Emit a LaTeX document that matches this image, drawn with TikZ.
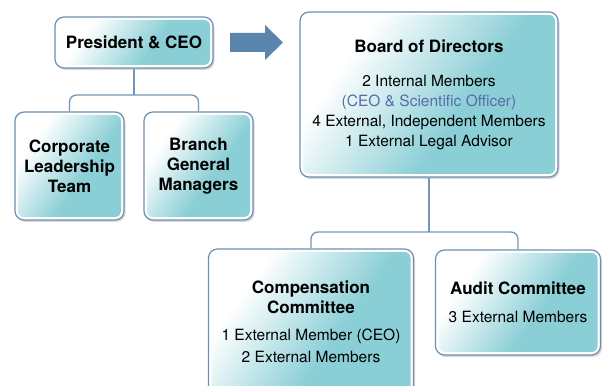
\documentclass[tikz,border=0pt]{standalone}
\usepackage{fontspec}
\setmainfont{TeX Gyre Heros}
\usetikzlibrary{shadows}
\definecolor{boxteal}{HTML}{8BCFD6}
\definecolor{outl}{HTML}{6C8FB2}
\definecolor{linec}{HTML}{7397B9}
\definecolor{arrowc}{HTML}{5A86AD}
\definecolor{subc}{HTML}{5A6AAA}
\pgfdeclarehorizontalshading{boxgrad}{100bp}{color(0bp)=(white); color(30bp)=(white); color(58bp)=(boxteal); color(100bp)=(boxteal)}
\newcommand{\titlef}{\fontsize{17}{20}\selectfont\bfseries}
\newcommand{\bodyf}{\fontsize{15.5}{20}\selectfont}
\tikzset{
 orgbox/.style={draw=outl, line width=1.2pt, fill=white, rounded corners=9pt, align=center, inner sep=0pt,
   font=\fontsize{15.5}{20}\selectfont,
   drop shadow={shadow xshift=1.5pt, shadow yshift=-2pt, opacity=0.3, fill=black!50},
   path picture={\shade[shading=boxgrad, shading angle=-35, rounded corners=6pt]
     ([shift={(3pt,-3pt)}]path picture bounding box.north west) rectangle
     ([shift={(-3pt,3pt)}]path picture bounding box.south east);}},
 conn/.style={draw=linec, line width=1.3pt, rounded corners=7pt},
}
\begin{document}
\begin{tikzpicture}[x=1pt,y=1pt]
\useasboundingbox (0,0) rectangle (606,386);
\fill[white] (0,0) rectangle (606,386);
\node[orgbox, minimum width=158pt, minimum height=51pt] (pres) at (134,343.5) {\titlef President \& CEO};
\node[orgbox, minimum width=109pt, minimum height=108pt] (corp) at (69.5,220) {\titlef Corporate\\\titlef Leadership\\\titlef Team};
\node[orgbox, minimum width=109pt, minimum height=108pt] (branch) at (198.5,220) {\titlef Branch\\\titlef General\\\titlef Managers};
\node[orgbox, minimum width=258pt, minimum height=165pt] (board) at (429,291.5) {\titlef Board of Directors\\[14pt]
 \bodyf 2 Internal Members\\ \bodyf\color{subc}(CEO \& Scientific Officer)\\ \bodyf 4 External, Independent Members\\ \bodyf 1 External Legal Advisor};
\node[orgbox, minimum width=205pt, minimum height=146pt] (comp) at (311,64) {\titlef Compensation\\\titlef Committee\\[7pt]
 \bodyf 1 External Member (CEO)\\[2pt] \bodyf 2 External Members};
\node[orgbox, minimum width=165pt, minimum height=105pt] (audit) at (518,83.5) {\titlef Audit Committee\\[8pt] \bodyf 3 External Members};
\fill[arrowc] (230,334) -- (265,334) -- (265,326) -- (283,343.5) -- (265,361) -- (265,353) -- (230,353) -- cycle;
\coordinate (j1) at (134,291);
\coordinate (j2) at (429,154);
\draw[conn] (pres.south) -- (j1);
\draw[conn] (corp.north) |- (j1) -| (branch.north);
\draw[conn] (board.south) -- (j2);
\draw[conn] (comp.north) |- (j2) -| (audit.north);
\end{tikzpicture}
\end{document}
